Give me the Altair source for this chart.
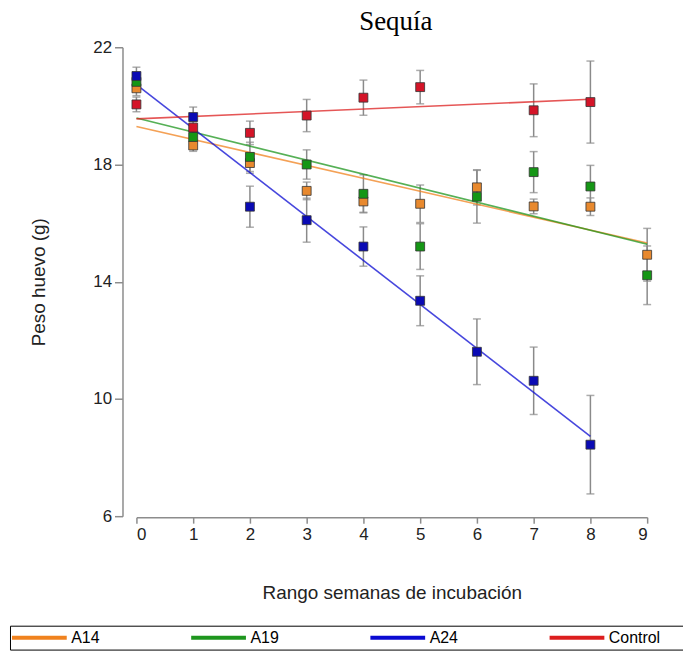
import altair as alt
import pandas as pd

groups = ["A14", "A19", "A24", "Control"]

weeks_a14 = [0, 1, 2, 3, 4, 5, 6, 7, 8, 9]
mean_a14 = [20.6, 18.65, 18.05, 17.1, 16.74, 16.66, 17.22, 16.57, 16.56, 14.92]
err_a14 = [0.25, 0.2, 0.35, 0.3, 0.37, 0.64, 0.6, 0.25, 0.3, 0.9]

weeks_a19 = [0, 1, 2, 3, 4, 5, 6, 7, 8, 9]
mean_a19 = [20.82, 18.94, 18.26, 18.0, 17.0, 15.2, 16.9, 17.74, 17.25, 14.22]
err_a19 = [0.25, 0.2, 0.5, 0.5, 0.65, 0.78, 0.9, 0.7, 0.72, 1.0]

weeks_a24 = [0, 1, 2, 3, 4, 5, 6, 7, 8]
mean_a24 = [21.02, 19.62, 16.56, 16.1, 15.2, 13.35, 11.61, 10.62, 8.44]
err_a24 = [0.3, 0.34, 0.7, 0.75, 0.67, 0.85, 1.12, 1.15, 1.68]

weeks_ctl = [0, 1, 2, 3, 4, 5, 7, 8]
mean_ctl = [20.05, 19.26, 19.08, 19.67, 20.28, 20.64, 19.85, 20.13]
err_ctl = [0.25, 0.2, 0.4, 0.55, 0.6, 0.57, 0.9, 1.4]

legend_colors = ["#F0821E", "#1E961E", "#0A0AD2", "#DC1E1E"]
point_colors = ["#E8892E", "#159615", "#0A0AB4", "#D41428"]

rows = []
for g, wk, mv, ev in [
    ("A14", weeks_a14, mean_a14, err_a14),
    ("A19", weeks_a19, mean_a19, err_a19),
    ("A24", weeks_a24, mean_a24, err_a24),
    ("Control", weeks_ctl, mean_ctl, err_ctl),
]:
    for w, v, e in zip(wk, mv, ev):
        rows.append({"grupo": g, "semana": w, "peso": v, "lo": v - e, "hi": v + e})
df = pd.DataFrame(rows)

xtitle = "Rango semanas de incubación"
ytitle = "Peso huevo (g)"

x_axis = alt.Axis(values=list(range(10)), offset=1, tickSize=6, labelPadding=3,
                  titlePadding=42, format="d", titleFontSize=19)
y_axis = alt.Axis(values=[6, 10, 14, 18, 22], offset=14, tickSize=8, labelPadding=3,
                  titlePadding=44, titleFontSize=19)

xs = alt.Scale(domain=[0, 9], nice=False, zero=False)
ys = alt.Scale(domain=[6, 22], nice=False, zero=False)


def X():
    return alt.X("semana:Q", scale=xs, axis=x_axis, title=xtitle)


def Y(field):
    return alt.Y(field, scale=ys, axis=y_axis, title=ytitle)


base = alt.Chart(df)

rules = base.mark_rule(color="#8a8a8a", strokeWidth=1.5).encode(
    x=X(), y=Y("lo:Q"), y2="hi:Q"
)

caps = base.transform_fold(["lo", "hi"], as_=["k", "v"]).mark_tick(
    orient="horizontal", color="#8a8a8a", thickness=1.5, size=8
).encode(x=X(), y=Y("v:Q"))

lines = base.transform_regression(
    "semana", "peso", groupby=["grupo"]
).mark_line(strokeWidth=1.6, opacity=0.75).encode(
    x=X(), y=Y("peso:Q"),
    color=alt.Color(
        "grupo:N",
        scale=alt.Scale(domain=groups, range=legend_colors),
        legend=alt.Legend(
            orient="none", legendX=-127, legendY=581, direction="horizontal",
            columns=4, columnPadding=84,
            symbolType="M-13.75,0H13.75", symbolSize=16, symbolOffset=17.5,
            symbolStrokeWidth=4, symbolOpacity=1, labelFont="Liberation Sans",
            labelFontSize=16, labelColor="#000000", labelOffset=24, padding=4,
            strokeColor="#000000", fillColor="#ffffff",
            title="\u00a0", titleOrient="right", titlePadding=24,
        ),
    ),
)

points = base.mark_square(size=80, stroke="#333333", strokeWidth=0.8, opacity=1).encode(
    x=X(), y=Y("peso:Q"),
    fill=alt.Fill("grupo:N", scale=alt.Scale(domain=groups, range=point_colors), legend=None),
)

chart = alt.layer(rules, caps, lines, points).properties(
    width=513, height=471,
    autosize=alt.AutoSizeParams(type="none"),
    padding={"left": 129, "top": 38, "right": 36, "bottom": 140},
    title=alt.TitleParams("Sequía", font="Liberation Serif", fontSize=27,
                          fontWeight="normal", frame="group", anchor="middle",
                          offset=2, dx=4, color="#000000"),
).configure_view(stroke=None).configure_axis(
    domainColor="#8c8c8c", tickColor="#8c8c8c", domainWidth=1.5, tickWidth=1.5,
    labelFont="Liberation Sans", labelFontSize=17, labelColor="#222222",
    titleFont="Liberation Sans", titleFontWeight="normal",
    titleColor="#222222", grid=False,
).configure_legend(titleFont="Liberation Sans", titleFontSize=12)

chart.save("out.html", embed_options={"renderer": "svg", "actions": False})
